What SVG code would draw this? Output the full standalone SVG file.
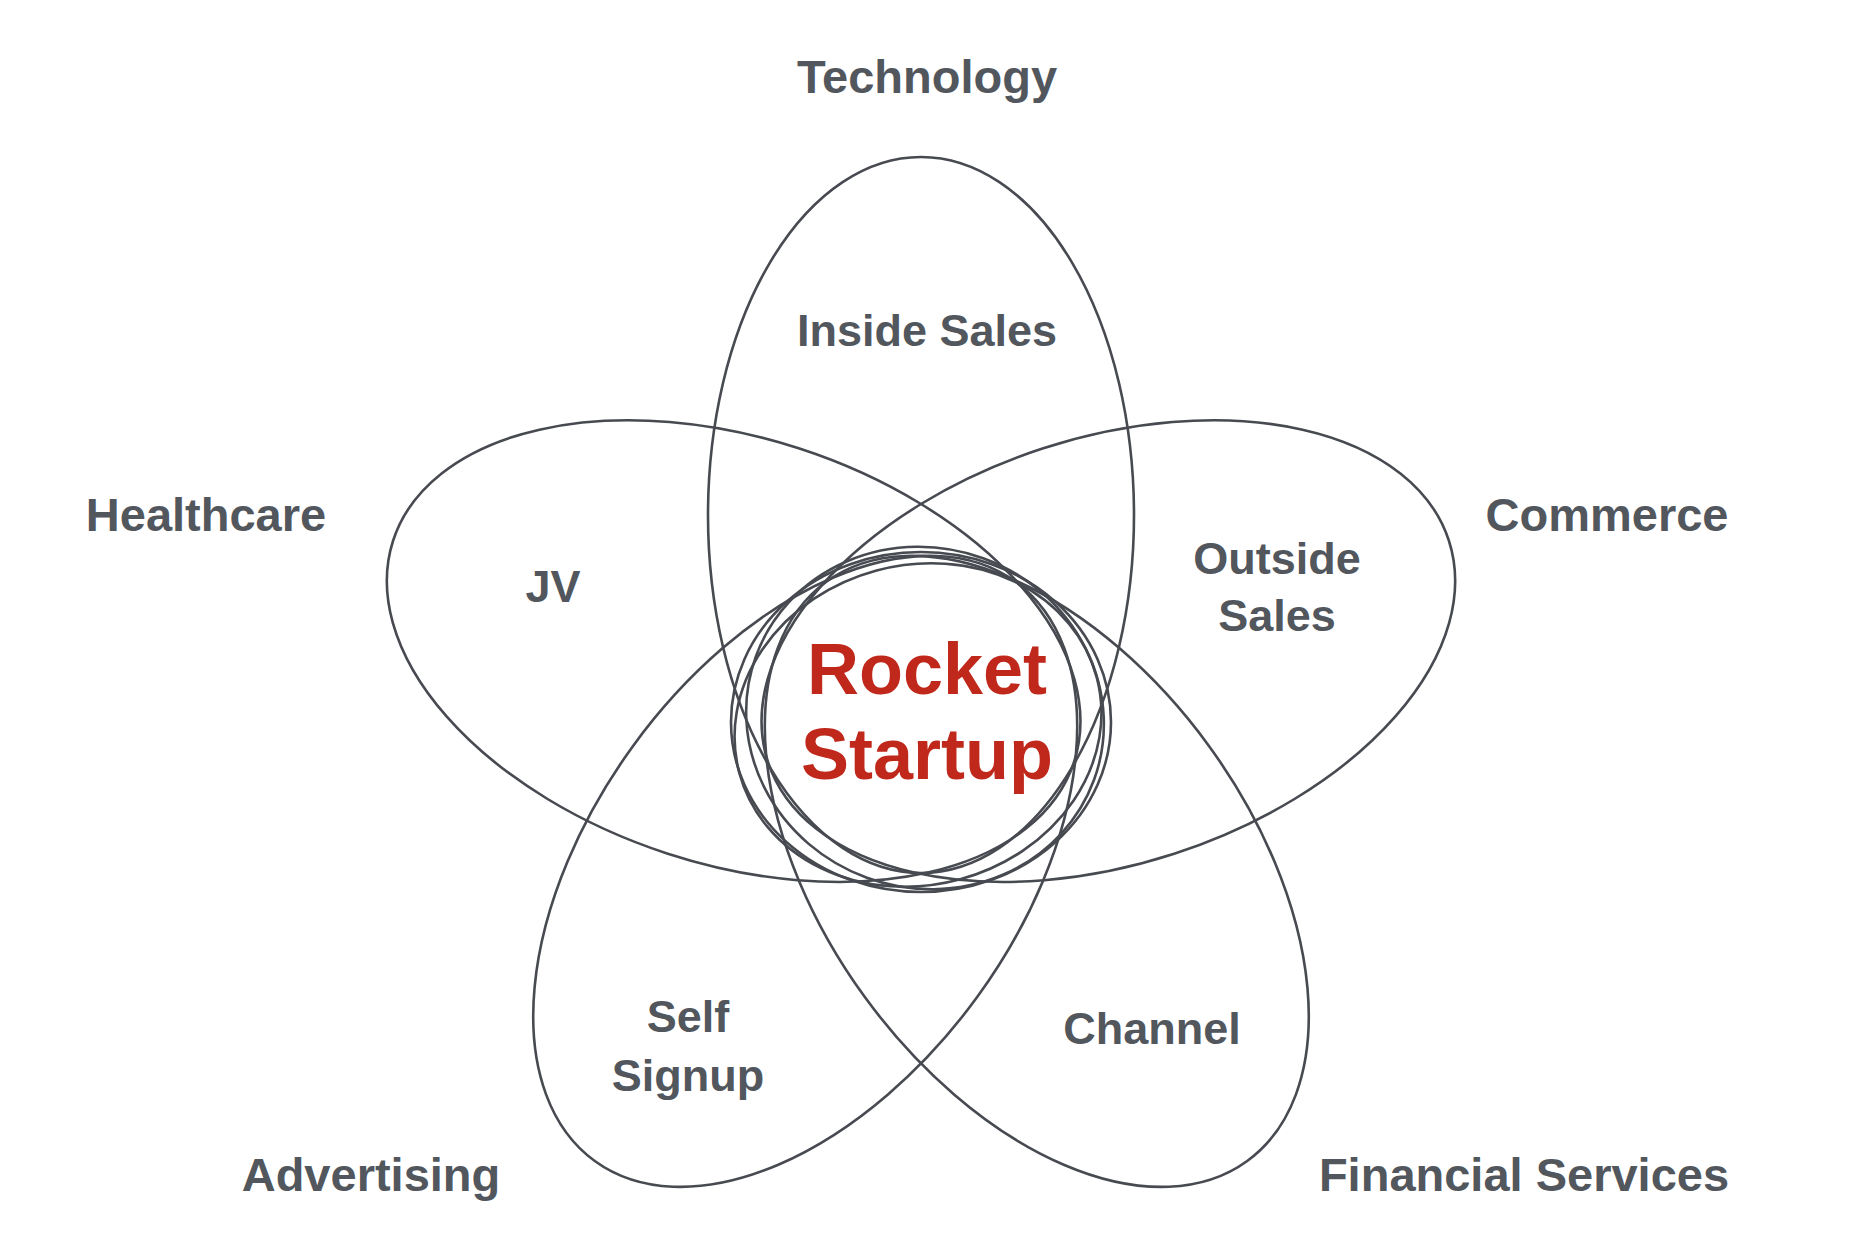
<svg xmlns="http://www.w3.org/2000/svg" width="1854" height="1260" viewBox="0 0 1854 1260">
<style>
.p{fill:none;stroke:#474a50;stroke-width:2.6}
.t{font-family:"Liberation Sans",Arial,sans-serif;font-weight:bold;fill:#52565d;text-anchor:middle}
.c{font-size:47px}.i{font-size:45px}
.r{font-family:"Liberation Sans",Arial,sans-serif;font-weight:bold;fill:#c0281c;text-anchor:middle;font-size:72px}
</style>
<rect width="1854" height="1260" fill="#fff"/>
<g id="connectors">
<ellipse class="p" cx="921" cy="515" rx="213" ry="358" transform="rotate(0 921 712)"/>
<ellipse class="p" cx="921" cy="515" rx="213" ry="358" transform="rotate(72 921 712)"/>
<ellipse class="p" cx="921" cy="515" rx="213" ry="358" transform="rotate(144 921 712)"/>
<ellipse class="p" cx="921" cy="515" rx="213" ry="358" transform="rotate(216 921 712)"/>
<ellipse class="p" cx="921" cy="515" rx="213" ry="358" transform="rotate(288 921 712)"/>
<ellipse class="p" cx="921" cy="722" rx="190" ry="170"/>
<ellipse class="p" cx="925" cy="718" rx="180" ry="170" transform="rotate(20 925 718)"/>
<ellipse class="p" cx="918" cy="725" rx="185" ry="160" transform="rotate(-15 918 725)"/>
</g>
<g id="technology"><text class="t c" x="927" y="93">Technology</text></g>
<g id="healthcare"><text class="t c" x="206" y="531">Healthcare</text></g>
<g id="commerce"><text class="t c" x="1607" y="531">Commerce</text></g>
<g id="advertising"><text class="t c" x="371" y="1191">Advertising</text></g>
<g id="financial"><text class="t c" x="1524" y="1191">Financial Services</text></g>
<g id="inside"><text class="t i" x="927" y="346">Inside Sales</text></g>
<g id="jv"><text class="t i" x="553" y="602">JV</text></g>
<g id="outside"><text class="t i" x="1277" y="574">Outside</text><text class="t i" x="1277" y="631">Sales</text></g>
<g id="self"><text class="t i" x="688" y="1032">Self</text><text class="t i" x="688" y="1091">Signup</text></g>
<g id="channel"><text class="t i" x="1152" y="1044">Channel</text></g>
<g id="rocket"><text class="r" x="927" y="694">Rocket</text><text class="r" x="927" y="779">Startup</text></g>
</svg>
